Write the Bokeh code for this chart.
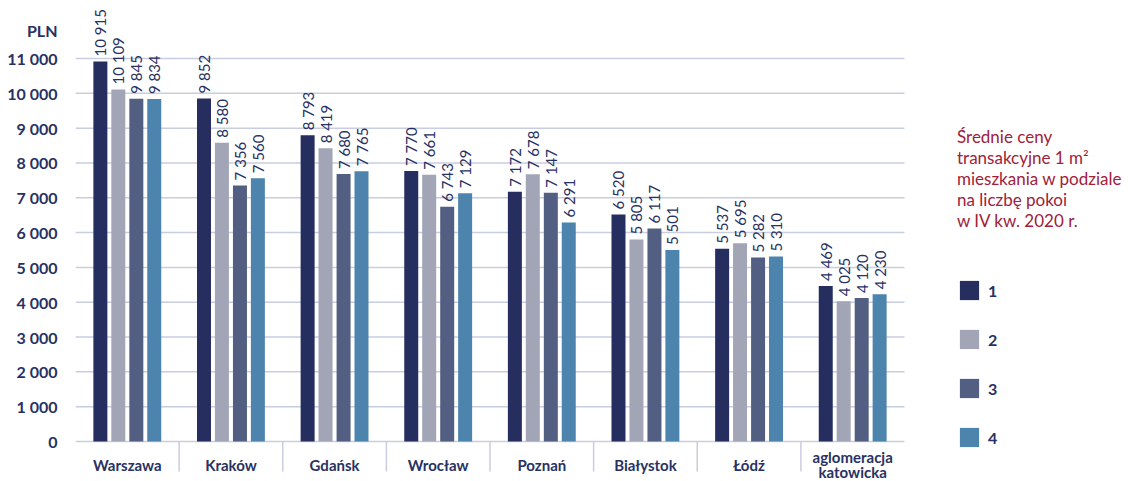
import math
from bokeh.plotting import figure
from bokeh.models import FixedTicker, Range1d, Legend, LegendItem, ColumnDataSource
from bokeh.core.properties import value
from bokeh.embed import file_html
from bokeh.resources import INLINE

# ---- data ----
categories = ["Warszawa", "Kraków", "Gdańsk", "Wrocław", "Poznań", "Białystok", "Łódź",
              "aglomeracja\nkatowicka"]
series_names = ["1", "2", "3", "4"]
rooms_1 = [10915, 9852, 8793, 7770, 7172, 6520, 5537, 4469]
rooms_2 = [10109, 8580, 8419, 7661, 7678, 5805, 5695, 4025]
rooms_3 = [9845, 7356, 7680, 6743, 7147, 6117, 5282, 4120]
rooms_4 = [9834, 7560, 7765, 7129, 6291, 5501, 5310, 4230]
y_ticks = [0, 1000, 2000, 3000, 4000, 5000, 6000, 7000, 8000, 9000, 10000, 11000]
y_tick_labels = ["0", "1 000", "2 000", "3 000", "4 000", "5 000", "6 000", "7 000",
                 "8 000", "9 000", "10 000", "11 000"]
unit_label = "PLN"
title_lines = ["Średnie ceny", "transakcyjne 1 m²", "mieszkania w podziale",
               "na liczbę pokoi", "w IV kw. 2020 r."]

# ---- layout / styles ----
series = [rooms_1, rooms_2, rooms_3, rooms_4]
colors = ["#262d5f", "#a1a5b6", "#535f82", "#4d84ae"]
offsets = [-0.26, -0.087, 0.087, 0.26]
BAR_W = 0.135
FONT = "Lato"
NAVY = "#283163"
RED = "#a0213a"
GRID = "#c8cde0"
n = len(categories)

W, H = 1134, 481
LEFT, TOP = 75, 4                # frame offsets on the canvas
ZERO_PX, TOP_TICK_PX = 441, 58   # canvas rows of 0 and of the top tick
PLOT_RIGHT_PX = 904              # right end of the category axis
px_per_unit = (ZERO_PX - TOP_TICK_PX) / y_ticks[-1]
px_per_cat = (PLOT_RIGHT_PX - LEFT) / n
y_start = -(H - ZERO_PX) / px_per_unit
y_end = (ZERO_PX - TOP) / px_per_unit
x_end = (W - LEFT) / px_per_cat
unit_label_at = (ZERO_PX - 30) / px_per_unit
cat_label_y = -23 / px_per_unit
sep_len = -30 / px_per_unit

def fmt(v):
    return f"{v:,}".replace(",", " ")

p = figure(width=W, height=H,
           x_range=Range1d(0, x_end), y_range=Range1d(y_start, y_end),
           output_backend="svg", toolbar_location=None,
           min_border_left=LEFT, min_border_right=0, min_border_top=TOP, min_border_bottom=0)
p.outline_line_color = None
p.xaxis.visible = False
p.xgrid.visible = False
p.ygrid.visible = False

# y axis (unit label carried as an extra labelled tick)
p.yaxis.ticker = FixedTicker(ticks=y_ticks + [unit_label_at], minor_ticks=[])
overrides = {t: l for t, l in zip(y_ticks, y_tick_labels)}
overrides[unit_label_at] = unit_label
p.yaxis.major_label_overrides = overrides
p.yaxis.axis_line_color = None
p.yaxis.major_tick_line_color = None
p.yaxis.minor_tick_line_color = None
p.yaxis.major_label_standoff = 12
p.yaxis.major_label_text_font = FONT
p.yaxis.major_label_text_font_size = "16px"
p.yaxis.major_label_text_font_style = "bold"
p.yaxis.major_label_text_color = NAVY

# horizontal grid lines over the category area only
p.segment(x0=[0] * len(y_ticks), x1=[n] * len(y_ticks), y0=y_ticks, y1=y_ticks,
          line_color=GRID, line_width=1.5)

# category separators below the axis and category names
centers = [i + 0.5 for i in range(n)]
bounds = [i for i in range(1, n)]
p.segment(x0=bounds, x1=bounds, y0=[0] * len(bounds), y1=[sep_len] * len(bounds),
          line_color=GRID, line_width=1.5)
p.text(x=centers, y=[cat_label_y] * n, text=categories, text_align="center",
       text_baseline="middle", text_font=value(FONT), text_font_size="15px",
       text_font_style="bold", text_color=NAVY, text_line_height=0.8)

items = []
for i, (name, vals) in enumerate(zip(series_names, series)):
    src = ColumnDataSource(dict(x=[c + offsets[i] for c in centers], top=vals,
                                label=[fmt(v) for v in vals]))
    r = p.vbar(x="x", top="top", width=BAR_W, source=src, fill_color=colors[i], line_color=None)
    p.text(x="x", y="top", text="label", source=src, angle=math.pi / 2,
           text_align="left", text_baseline="middle", y_offset=-5,
           text_font=value(FONT), text_font_size="15px", text_color=NAVY)
    items.append(LegendItem(label=name, renderers=[r]))

legend = Legend(items=items, location=(882, 32), orientation="vertical",
                title="\n".join(title_lines), title_text_color=RED, title_text_font=FONT,
                title_text_font_size="17px", title_text_font_style="normal",
                title_text_line_height=1.66, title_standoff=47,
                glyph_width=24, glyph_height=24, label_height=24, spacing=25,
                padding=0, margin=0, label_standoff=7,
                border_line_color=None, background_fill_alpha=0,
                label_text_font=FONT, label_text_font_size="16px",
                label_text_font_style="bold", label_text_color=NAVY)
p.add_layout(legend)

open("out.html", "w").write(file_html(p, INLINE))
